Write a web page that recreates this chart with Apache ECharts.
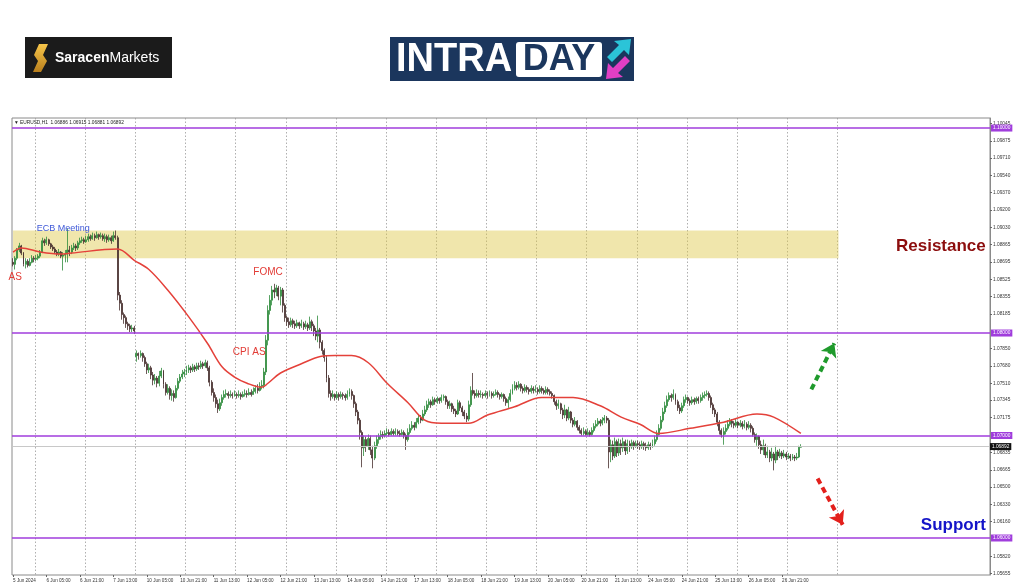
<!DOCTYPE html>
<html>
<head>
<meta charset="utf-8">
<title>EURUSD H1 intraday</title>
<script src="https://cdn.jsdelivr.net/npm/echarts@6/dist/echarts.min.js"></script>
<style>
  html, body { margin: 0; padding: 0; background: #fff; }
  #main { width: 1024px; height: 587px; }
</style>
</head>
<body>
<div id="main"></div>
<script>
// trading days on the chart (server time); first bar 5 Jun 13:00, last bar 27 Jun 06:00
const days = ['5 Jun', '6 Jun', '7 Jun', '10 Jun', '11 Jun', '12 Jun', '13 Jun', '14 Jun', '17 Jun', '18 Jun',
  '19 Jun', '20 Jun', '21 Jun', '24 Jun', '25 Jun', '26 Jun', '27 Jun'];
const firstHour = 13;
const lastHour = 6;
const futureBars = 90; // empty space right of the last bar

// hourly closes, one trading day per line
const closes = [
  1.0867,1.0873,1.0881,1.0885,1.0878,1.0867,1.0870,1.0866,1.0869,1.0873,1.0872,
  1.0873,1.0875,1.0879,1.0890,1.0888,1.0891,1.0887,1.0884,1.0882,1.0879,1.0877,1.0879,1.0875,1.0876,1.0877,1.0881,1.0879,1.0883,1.0885,1.0883,1.0888,1.0890,1.0891,1.0889,
  1.0891,1.0894,1.0892,1.0895,1.0893,1.0896,1.0894,1.0895,1.0892,1.0894,1.0891,1.0893,1.0890,1.0895,1.0893,1.0837,1.0829,1.0818,1.0815,1.0809,1.0807,1.0804,1.0805,1.0802,
  1.0780,1.0778,1.0780,1.0776,1.0770,1.0764,1.0766,1.0759,1.0754,1.0756,1.0751,1.0758,1.0763,1.0750,1.0742,1.0746,1.0739,1.0741,1.0737,1.0746,1.0753,1.0757,1.0760,1.0762,
  1.0764,1.0766,1.0764,1.0767,1.0765,1.0768,1.0767,1.0770,1.0768,1.0771,1.0766,1.0752,1.0742,1.0737,1.0731,1.0726,1.0732,1.0737,1.0740,1.0741,1.0739,1.0740,1.0739,1.0740,
  1.0739,1.0740,1.0738,1.0740,1.0741,1.0740,1.0742,1.0740,1.0743,1.0746,1.0744,1.0748,1.0749,1.0762,1.0793,1.0822,1.0832,1.0842,1.0840,1.0844,1.0836,1.0842,1.0827,1.0815,
  1.0811,1.0808,1.0812,1.0809,1.0807,1.0810,1.0807,1.0809,1.0806,1.0808,1.0805,1.0811,1.0807,1.0802,1.0797,1.0803,1.0791,1.0783,1.0776,1.0756,1.0741,1.0738,1.0740,1.0737,
  1.0740,1.0738,1.0740,1.0739,1.0737,1.0740,1.0743,1.0739,1.0731,1.0723,1.0715,1.0703,1.0688,1.0696,1.0690,1.0697,1.0686,1.0678,1.0690,1.0696,1.0699,1.0701,1.0700,1.0702,
  1.0703,1.0701,1.0704,1.0702,1.0704,1.0702,1.0701,1.0703,1.0700,1.0696,1.0703,1.0707,1.0710,1.0708,1.0713,1.0717,1.0715,1.0721,1.0725,1.0730,1.0733,1.0730,1.0735,1.0733,
  1.0736,1.0734,1.0737,1.0738,1.0733,1.0729,1.0731,1.0726,1.0724,1.0721,1.0732,1.0727,1.0723,1.0719,1.0716,1.0730,1.0744,1.0741,1.0739,1.0741,1.0740,1.0740,1.0739,1.0741,
  1.0740,1.0741,1.0739,1.0740,1.0742,1.0740,1.0738,1.0740,1.0736,1.0732,1.0735,1.0741,1.0746,1.0749,1.0747,1.0750,1.0746,1.0744,1.0747,1.0745,1.0743,1.0746,1.0744,1.0745,
  1.0743,1.0746,1.0744,1.0742,1.0745,1.0743,1.0741,1.0739,1.0733,1.0729,1.0731,1.0725,1.0720,1.0725,1.0717,1.0723,1.0715,1.0711,1.0714,1.0708,1.0705,1.0702,1.0704,1.0701,
  1.0703,1.0701,1.0705,1.0709,1.0711,1.0714,1.0712,1.0715,1.0717,1.0715,1.0684,1.0691,1.0680,1.0694,1.0683,1.0692,1.0688,1.0694,1.0685,1.0692,1.0689,1.0693,1.0690,1.0692,
  1.0691,1.0689,1.0692,1.0690,1.0688,1.0691,1.0689,1.0692,1.0696,1.0701,1.0707,1.0715,1.0723,1.0729,1.0735,1.0739,1.0737,1.0740,1.0733,1.0727,1.0724,1.0729,1.0735,1.0737,
  1.0734,1.0732,1.0735,1.0733,1.0736,1.0734,1.0737,1.0739,1.0740,1.0741,1.0737,1.0730,1.0725,1.0721,1.0713,1.0705,1.0701,1.0704,1.0707,1.0711,1.0714,1.0712,1.0710,1.0713,
  1.0710,1.0712,1.0709,1.0711,1.0708,1.0710,1.0707,1.0701,1.0696,1.0699,1.0691,1.0686,1.0690,1.0681,1.0684,1.0678,1.0682,1.0676,1.0684,1.0680,1.0683,1.0680,1.0682,1.0679,
  1.0680,1.0678,1.0679,1.0678,1.0679,1.06886,1.06892
];

const highs = [
  1.0873,1.0875,1.0883,1.0888,1.0886,1.0879,1.0873,1.0872,1.0873,1.0876,1.0875,
  1.0876,1.0877,1.0881,1.0893,1.0892,1.0894,1.0892,1.0888,1.0886,1.0884,1.0881,1.0882,1.0880,1.0879,1.0881,1.0902,1.0885,1.0886,1.0888,1.0887,1.0890,1.0893,1.0894,1.0893,
  1.0895,1.0897,1.0896,1.0898,1.0897,1.0899,1.0897,1.0898,1.0897,1.0897,1.0896,1.0896,1.0895,1.0899,1.0900,1.0895,1.0840,1.0832,1.0820,1.0817,1.0811,1.0809,1.0808,1.0807,
  1.0783,1.0781,1.0783,1.0781,1.0778,1.0772,1.0770,1.0768,1.0762,1.0760,1.0758,1.0763,1.0766,1.0764,1.0752,1.0750,1.0748,1.0745,1.0744,1.0749,1.0756,1.0760,1.0764,1.0765,
  1.0768,1.0769,1.0768,1.0770,1.0769,1.0771,1.0771,1.0773,1.0772,1.0774,1.0773,1.0768,1.0754,1.0746,1.0740,1.0735,1.0736,1.0740,1.0744,1.0745,1.0743,1.0744,1.0742,1.0744,
  1.0742,1.0744,1.0742,1.0743,1.0745,1.0744,1.0746,1.0745,1.0747,1.0749,1.0750,1.0752,1.0754,1.0766,1.0798,1.0827,1.0837,1.0846,1.0848,1.0847,1.0846,1.0845,1.0844,1.0829,
  1.0817,1.0815,1.0815,1.0814,1.0812,1.0813,1.0811,1.0813,1.0811,1.0812,1.0810,1.0816,1.0813,1.0809,1.0805,1.0817,1.0805,1.0793,1.0785,1.0778,1.0759,1.0744,1.0744,1.0741,
  1.0743,1.0742,1.0743,1.0742,1.0741,1.0744,1.0746,1.0745,1.0740,1.0733,1.0725,1.0717,1.0705,1.0700,1.0699,1.0701,1.0700,1.0690,1.0694,1.0700,1.0702,1.0705,1.0704,1.0705,
  1.0707,1.0706,1.0707,1.0706,1.0707,1.0706,1.0705,1.0706,1.0705,1.0702,1.0707,1.0711,1.0714,1.0713,1.0717,1.0721,1.0720,1.0725,1.0729,1.0734,1.0736,1.0735,1.0738,1.0737,
  1.0738,1.0737,1.0740,1.0740,1.0739,1.0735,1.0734,1.0732,1.0729,1.0726,1.0735,1.0734,1.0729,1.0725,1.0722,1.0734,1.0748,1.0761,1.0744,1.0745,1.0744,1.0744,1.0742,1.0744,
  1.0743,1.0744,1.0743,1.0743,1.0745,1.0744,1.0741,1.0742,1.0741,1.0738,1.0738,1.0745,1.0750,1.0753,1.0752,1.0753,1.0751,1.0748,1.0750,1.0749,1.0747,1.0749,1.0748,1.0749,
  1.0747,1.0749,1.0748,1.0746,1.0748,1.0747,1.0745,1.0743,1.0740,1.0735,1.0735,1.0732,1.0727,1.0730,1.0726,1.0728,1.0724,1.0717,1.0718,1.0715,1.0710,1.0707,1.0708,1.0706,
  1.0707,1.0705,1.0708,1.0712,1.0715,1.0717,1.0716,1.0718,1.0720,1.0719,1.0717,1.0696,1.0695,1.0698,1.0696,1.0697,1.0696,1.0698,1.0696,1.0696,1.0695,1.0696,1.0695,1.0695,
  1.0695,1.0694,1.0695,1.0694,1.0693,1.0694,1.0693,1.0696,1.0700,1.0705,1.0711,1.0719,1.0727,1.0733,1.0739,1.0742,1.0741,1.0745,1.0741,1.0735,1.0730,1.0732,1.0738,1.0740,
  1.0738,1.0736,1.0738,1.0737,1.0738,1.0738,1.0740,1.0742,1.0743,1.0744,1.0743,1.0739,1.0732,1.0727,1.0723,1.0715,1.0707,1.0708,1.0711,1.0715,1.0717,1.0716,1.0714,1.0716,
  1.0714,1.0715,1.0714,1.0715,1.0713,1.0714,1.0712,1.0709,1.0703,1.0702,1.0700,1.0695,1.0696,1.0692,1.0690,1.0686,1.0688,1.0684,1.0690,1.0686,1.0687,1.0685,1.0686,1.0684,
  1.0683,1.0682,1.0682,1.0681,1.0683,1.0690,1.06915
];

const lows = [
  1.0865,1.0862,1.0871,1.0879,1.0876,1.0865,1.0863,1.0864,1.0865,1.0868,1.0869,
  1.0870,1.0871,1.0873,1.0878,1.0885,1.0886,1.0885,1.0882,1.0880,1.0877,1.0875,1.0875,1.0873,1.0861,1.0869,1.0869,1.0875,1.0877,1.0881,1.0880,1.0881,1.0886,1.0888,1.0887,
  1.0888,1.0889,1.0890,1.0891,1.0890,1.0892,1.0891,1.0892,1.0890,1.0889,1.0888,1.0889,1.0887,1.0889,1.0891,1.0832,1.0822,1.0813,1.0809,1.0805,1.0803,1.0801,1.0801,1.0799,
  1.0772,1.0774,1.0776,1.0772,1.0767,1.0760,1.0761,1.0755,1.0749,1.0750,1.0747,1.0748,1.0756,1.0746,1.0739,1.0740,1.0735,1.0734,1.0733,1.0736,1.0744,1.0751,1.0755,1.0757,
  1.0759,1.0761,1.0761,1.0762,1.0762,1.0763,1.0764,1.0765,1.0765,1.0766,1.0763,1.0748,1.0739,1.0733,1.0727,1.0722,1.0724,1.0729,1.0735,1.0737,1.0736,1.0737,1.0736,1.0738,
  1.0736,1.0737,1.0735,1.0737,1.0738,1.0737,1.0739,1.0738,1.0740,1.0741,1.0741,1.0743,1.0745,1.0746,1.0759,1.0788,1.0818,1.0827,1.0834,1.0836,1.0832,1.0827,1.0820,1.0811,
  1.0807,1.0805,1.0806,1.0805,1.0804,1.0805,1.0804,1.0805,1.0803,1.0804,1.0802,1.0803,1.0802,1.0797,1.0793,1.0791,1.0785,1.0779,1.0772,1.0752,1.0737,1.0734,1.0736,1.0734,
  1.0735,1.0734,1.0736,1.0735,1.0734,1.0735,1.0738,1.0735,1.0727,1.0719,1.0711,1.0696,1.0669,1.0680,1.0684,1.0686,1.0681,1.0668,1.0676,1.0687,1.0692,1.0696,1.0697,1.0698,
  1.0700,1.0699,1.0700,1.0700,1.0700,1.0700,1.0699,1.0700,1.0697,1.0686,1.0694,1.0701,1.0705,1.0705,1.0707,1.0711,1.0712,1.0714,1.0719,1.0723,1.0727,1.0727,1.0729,1.0730,
  1.0731,1.0731,1.0732,1.0734,1.0730,1.0726,1.0726,1.0723,1.0721,1.0718,1.0720,1.0724,1.0719,1.0716,1.0713,1.0714,1.0728,1.0739,1.0736,1.0737,1.0737,1.0737,1.0736,1.0737,
  1.0736,1.0738,1.0736,1.0737,1.0739,1.0737,1.0735,1.0736,1.0733,1.0729,1.0727,1.0733,1.0740,1.0744,1.0744,1.0745,1.0743,1.0741,1.0742,1.0742,1.0740,1.0741,1.0741,1.0742,
  1.0740,1.0741,1.0741,1.0740,1.0740,1.0740,1.0739,1.0736,1.0730,1.0725,1.0726,1.0721,1.0716,1.0717,1.0714,1.0715,1.0712,1.0708,1.0709,1.0705,1.0702,1.0700,1.0700,1.0700,
  1.0700,1.0699,1.0700,1.0703,1.0707,1.0709,1.0709,1.0710,1.0712,1.0712,1.0668,1.0674,1.0676,1.0678,1.0679,1.0680,1.0681,1.0684,1.0681,1.0682,1.0684,1.0687,1.0686,1.0688,
  1.0687,1.0686,1.0687,1.0686,1.0685,1.0686,1.0686,1.0688,1.0690,1.0694,1.0700,1.0705,1.0713,1.0721,1.0727,1.0733,1.0733,1.0735,1.0730,1.0724,1.0721,1.0722,1.0727,1.0732,
  1.0731,1.0729,1.0730,1.0730,1.0731,1.0731,1.0732,1.0734,1.0736,1.0738,1.0734,1.0727,1.0721,1.0718,1.0709,1.0701,1.0698,1.0691,1.0701,1.0705,1.0709,1.0708,1.0707,1.0708,
  1.0707,1.0708,1.0706,1.0707,1.0705,1.0706,1.0703,1.0699,1.0693,1.0690,1.0687,1.0682,1.0681,1.0678,1.0678,1.0674,1.0675,1.0666,1.0673,1.0676,1.0678,1.0677,1.0678,1.0676,
  1.0677,1.0675,1.0676,1.0675,1.0676,1.0678,1.06881
];

// opens follow the previous close, except where the session opens with a gap
const gapOpens = { 0: 1.0869, 59: 1.0777 };

// red moving average, read at a few points [bar index, price]
const maPoints = [
  [0, 1.0879], [4, 1.0883], [13, 1.0879], [23, 1.0877], [28, 1.0878], [50, 1.0882], [58, 1.0871],
  [65, 1.0862], [74, 1.0842], [84, 1.0816], [93, 1.0790], [100, 1.0767], [106, 1.0757], [112, 1.0751],
  [119, 1.0747], [122, 1.0751], [128, 1.0761], [138, 1.0770], [147, 1.0777], [154, 1.0778], [162, 1.0778],
  [170, 1.0771], [179, 1.0751], [189, 1.0732], [197, 1.0715], [205, 1.0712], [218, 1.0712], [227, 1.0720],
  [240, 1.0728], [253, 1.0737], [268, 1.0737], [281, 1.0729], [291, 1.0718], [300, 1.0711], [309, 1.0702],
  [324, 1.0707], [340, 1.0713], [356, 1.0721], [364, 1.0718], [377, 1.0702]
];

const levels = [1.10000, 1.08000, 1.07000, 1.06000];
const lastPrice = 1.06892;
const resistanceZone = [1.0900, 1.0873];
const zoneEndBar = 395;
const priceTicks = [1.10045, 1.09875, 1.09710, 1.09540, 1.09370, 1.09200, 1.09030, 1.08865, 1.08695, 1.08525,
  1.08355, 1.08185, 1.07850, 1.07680, 1.07510, 1.07345, 1.07175, 1.06835, 1.06665, 1.06500, 1.06330, 1.06160,
  1.05820, 1.05655];

// annotations anchored at [bar index, price]
const notes = [
  { text: 'ECB Meeting', at: [24, 1.0902] },
  { text: 'AS', at: [1, 1.0854] },
  { text: 'FOMC', at: [122, 1.0859] },
  { text: 'CPI AS', at: [113, 1.0781] },
  { text: 'Resistance', at: [444, 1.0885] },
  { text: 'Support', at: [450, 1.0612] }
];
const upArrow = [[382, 1.0745], [393, 1.0790]];
const downArrow = [[385, 1.0658], [397, 1.0613]];

// ---- categories ----
const cats = [];
days.forEach((d, k) => {
  const h0 = k === 0 ? firstHour : 0;
  const h1 = k === days.length - 1 ? lastHour : 23;
  for (let h = h0; h <= h1; h++) cats.push(d + ' ' + String(h).padStart(2, '0') + ':00');
});
cats[0] = '5 Jun 2024';
const nReal = cats.length;
for (let i = 0; i < futureBars; i++) cats.push('');
const lastCat = cats.length - 1;

const candles = closes.map((c, i) => {
  const o = i in gapOpens ? gapOpens[i] : closes[i - 1];
  return [o, c, lows[i], highs[i]];
});

const labelAt = (i) => i % 16 === 0 && i < nReal;
const gridAt = (i) => i >= 11 && (i - 11) % 24 === 0 && i <= zoneEndBar;

const purple = '#a03ddc';
const noteStyle = {
  'ECB Meeting': { color: '#3d57d8', fontSize: 9 },
  'AS': { color: '#e23b35', fontSize: 10 },
  'FOMC': { color: '#e23b35', fontSize: 10 },
  'CPI AS': { color: '#e23b35', fontSize: 10 },
  'Resistance': { color: '#8c0d0d', fontSize: 17, fontWeight: 'bold' },
  'Support': { color: '#1414c8', fontSize: 17, fontWeight: 'bold' }
};
const tagLabel = (bg, text) => ({
  show: true, position: 'end', distance: 1,
  formatter: text ? () => text : (p) => p.value.toFixed(5),
  color: '#fff', backgroundColor: bg, fontSize: 4.8, padding: [1, 2]
});

const chart = echarts.init(document.getElementById('main'));
chart.setOption({
  animation: false,
  backgroundColor: '#fff',
  textStyle: { fontFamily: 'Liberation Sans, Arial, sans-serif' },
  grid: { left: 12, right: 34, top: 118, bottom: 12, show: true, borderColor: '#8a8a8a', borderWidth: 1 },
  xAxis: {
    type: 'category',
    data: cats,
    boundaryGap: true,
    axisLine: { show: false },
    axisTick: { show: true, length: 2, alignWithLabel: true, interval: labelAt, lineStyle: { color: '#666' } },
    axisLabel: { interval: labelAt, align: 'left', fontSize: 4.6, color: '#333', margin: 3 },
    splitLine: { show: true, interval: gridAt, lineStyle: { color: '#9a9a9a', type: [1.5, 2], width: 0.8 } }
  },
  yAxis: {
    type: 'value',
    position: 'right',
    min: 1.05639,
    max: 1.10098,
    axisLine: { show: true, lineStyle: { color: '#8a8a8a' } },
    axisTick: { show: true, length: 2, customValues: priceTicks, lineStyle: { color: '#666' } },
    axisLabel: { customValues: priceTicks, formatter: (v) => v.toFixed(5), fontSize: 4.8, color: '#333', margin: 3 },
    splitLine: { show: false }
  },
  series: [
    {
      name: 'EURUSD,H1',
      type: 'candlestick',
      data: candles,
      barWidth: '70%',
      itemStyle: { color: '#2f8c3c', color0: '#47302e', borderColor: '#2f8c3c', borderColor0: '#47302e', borderWidth: 0.8 },
      markArea: {
        silent: true,
        itemStyle: { color: 'rgba(222,200,70,0.45)' },
        data: [[{ xAxis: 0, yAxis: resistanceZone[0] }, { xAxis: zoneEndBar, yAxis: resistanceZone[1] }]]
      },
      markLine: {
        silent: true,
        symbol: ['none', 'none'],
        label: tagLabel(purple),
        lineStyle: { color: purple, width: 1.5, type: 'solid' },
        data: levels.map((v) => ({ yAxis: v }))
      },
      markPoint: {
        silent: true,
        symbol: 'circle',
        symbolSize: 1,
        itemStyle: { color: 'rgba(0,0,0,0)' },
        label: { show: true, position: 'inside', formatter: '{b}' },
        data: notes.map((n) => ({ name: n.text, coord: n.at, label: noteStyle[n.text] }))
      }
    },
    {
      name: 'MA',
      type: 'line',
      data: maPoints,
      smooth: 0.35,
      showSymbol: false,
      z: 4,
      lineStyle: { color: '#e4413a', width: 1.5 }
    },
    {
      name: 'marks',
      type: 'line',
      data: [],
      markLine: {
        silent: true,
        symbol: ['none', 'arrow'],
        symbolSize: 13,
        label: { show: false },
        lineStyle: { width: 4, type: [6, 4] },
        data: [
          [{ coord: upArrow[0], lineStyle: { color: '#1f9a2c' } }, { coord: upArrow[1], lineStyle: { color: '#1f9a2c' } }],
          [{ coord: downArrow[0], lineStyle: { color: '#e3201c' } }, { coord: downArrow[1], lineStyle: { color: '#e3201c' } }],
          [
            { coord: [0, lastPrice], symbol: 'none', lineStyle: { color: '#c8c8c8', width: 1, type: 'solid' }, label: tagLabel('#111', lastPrice.toFixed(5)) },
            { coord: [lastCat, lastPrice], symbol: 'none', lineStyle: { color: '#c8c8c8', width: 1, type: 'solid' }, label: tagLabel('#111', lastPrice.toFixed(5)) }
          ]
        ]
      }
    }
  ],
  graphic: [
    { type: 'text', left: 14, top: 120, style: { text: '\u25BC EURUSD,H1  1.06886 1.06915 1.06881 1.06892', fontSize: 4.8, fill: '#222' } },
    // Saracen Markets logo
    { type: 'rect', shape: { x: 25, y: 37, width: 147, height: 41 }, style: { fill: '#1b1b1b' } },
    {
      type: 'polygon',
      shape: { points: [[39, 44], [48, 44], [43, 55], [47, 61], [41, 72], [33, 72], [38, 61], [34, 55]] },
      style: { fill: new echarts.graphic.LinearGradient(0, 0, 0, 1, [{ offset: 0, color: '#f7c64a' }, { offset: 1, color: '#b97f1d' }]) }
    },
    {
      type: 'text', x: 55, y: 58,
      style: {
        text: '{b|Saracen}{n|Markets}', verticalAlign: 'middle',
        rich: { b: { fontSize: 14, fontWeight: 'bold', fill: '#fff' }, n: { fontSize: 14, fill: '#fff' } }
      }
    },
    // INTRADAY logo
    { type: 'rect', shape: { x: 390, y: 37, width: 244, height: 44 }, style: { fill: '#1b365d' } },
    { type: 'text', x: 396, y: 60, scaleX: 0.95, style: { text: 'INTRA', fontSize: 40, fontWeight: 'bold', fill: '#fff', verticalAlign: 'middle' } },
    { type: 'rect', shape: { x: 516, y: 42, width: 86, height: 35, r: 3 }, style: { fill: '#fff' } },
    { type: 'text', x: 559, y: 60, style: { text: 'DAY', fontSize: 36, fontWeight: 'bold', fill: '#1b365d', align: 'center', verticalAlign: 'middle' } },
    { type: 'polygon', shape: { points: [[607, 57], [619, 45], [614, 41], [631, 39], [629, 55], [624, 50], [612, 62]] }, style: { fill: '#2bc4d8' } },
    { type: 'polygon', shape: { points: [[630, 61], [618, 73], [623, 77], [606, 79], [608, 63], [613, 68], [625, 56]] }, style: { fill: '#e13fc4' } }
  ]
});
</script>
</body>
</html>
